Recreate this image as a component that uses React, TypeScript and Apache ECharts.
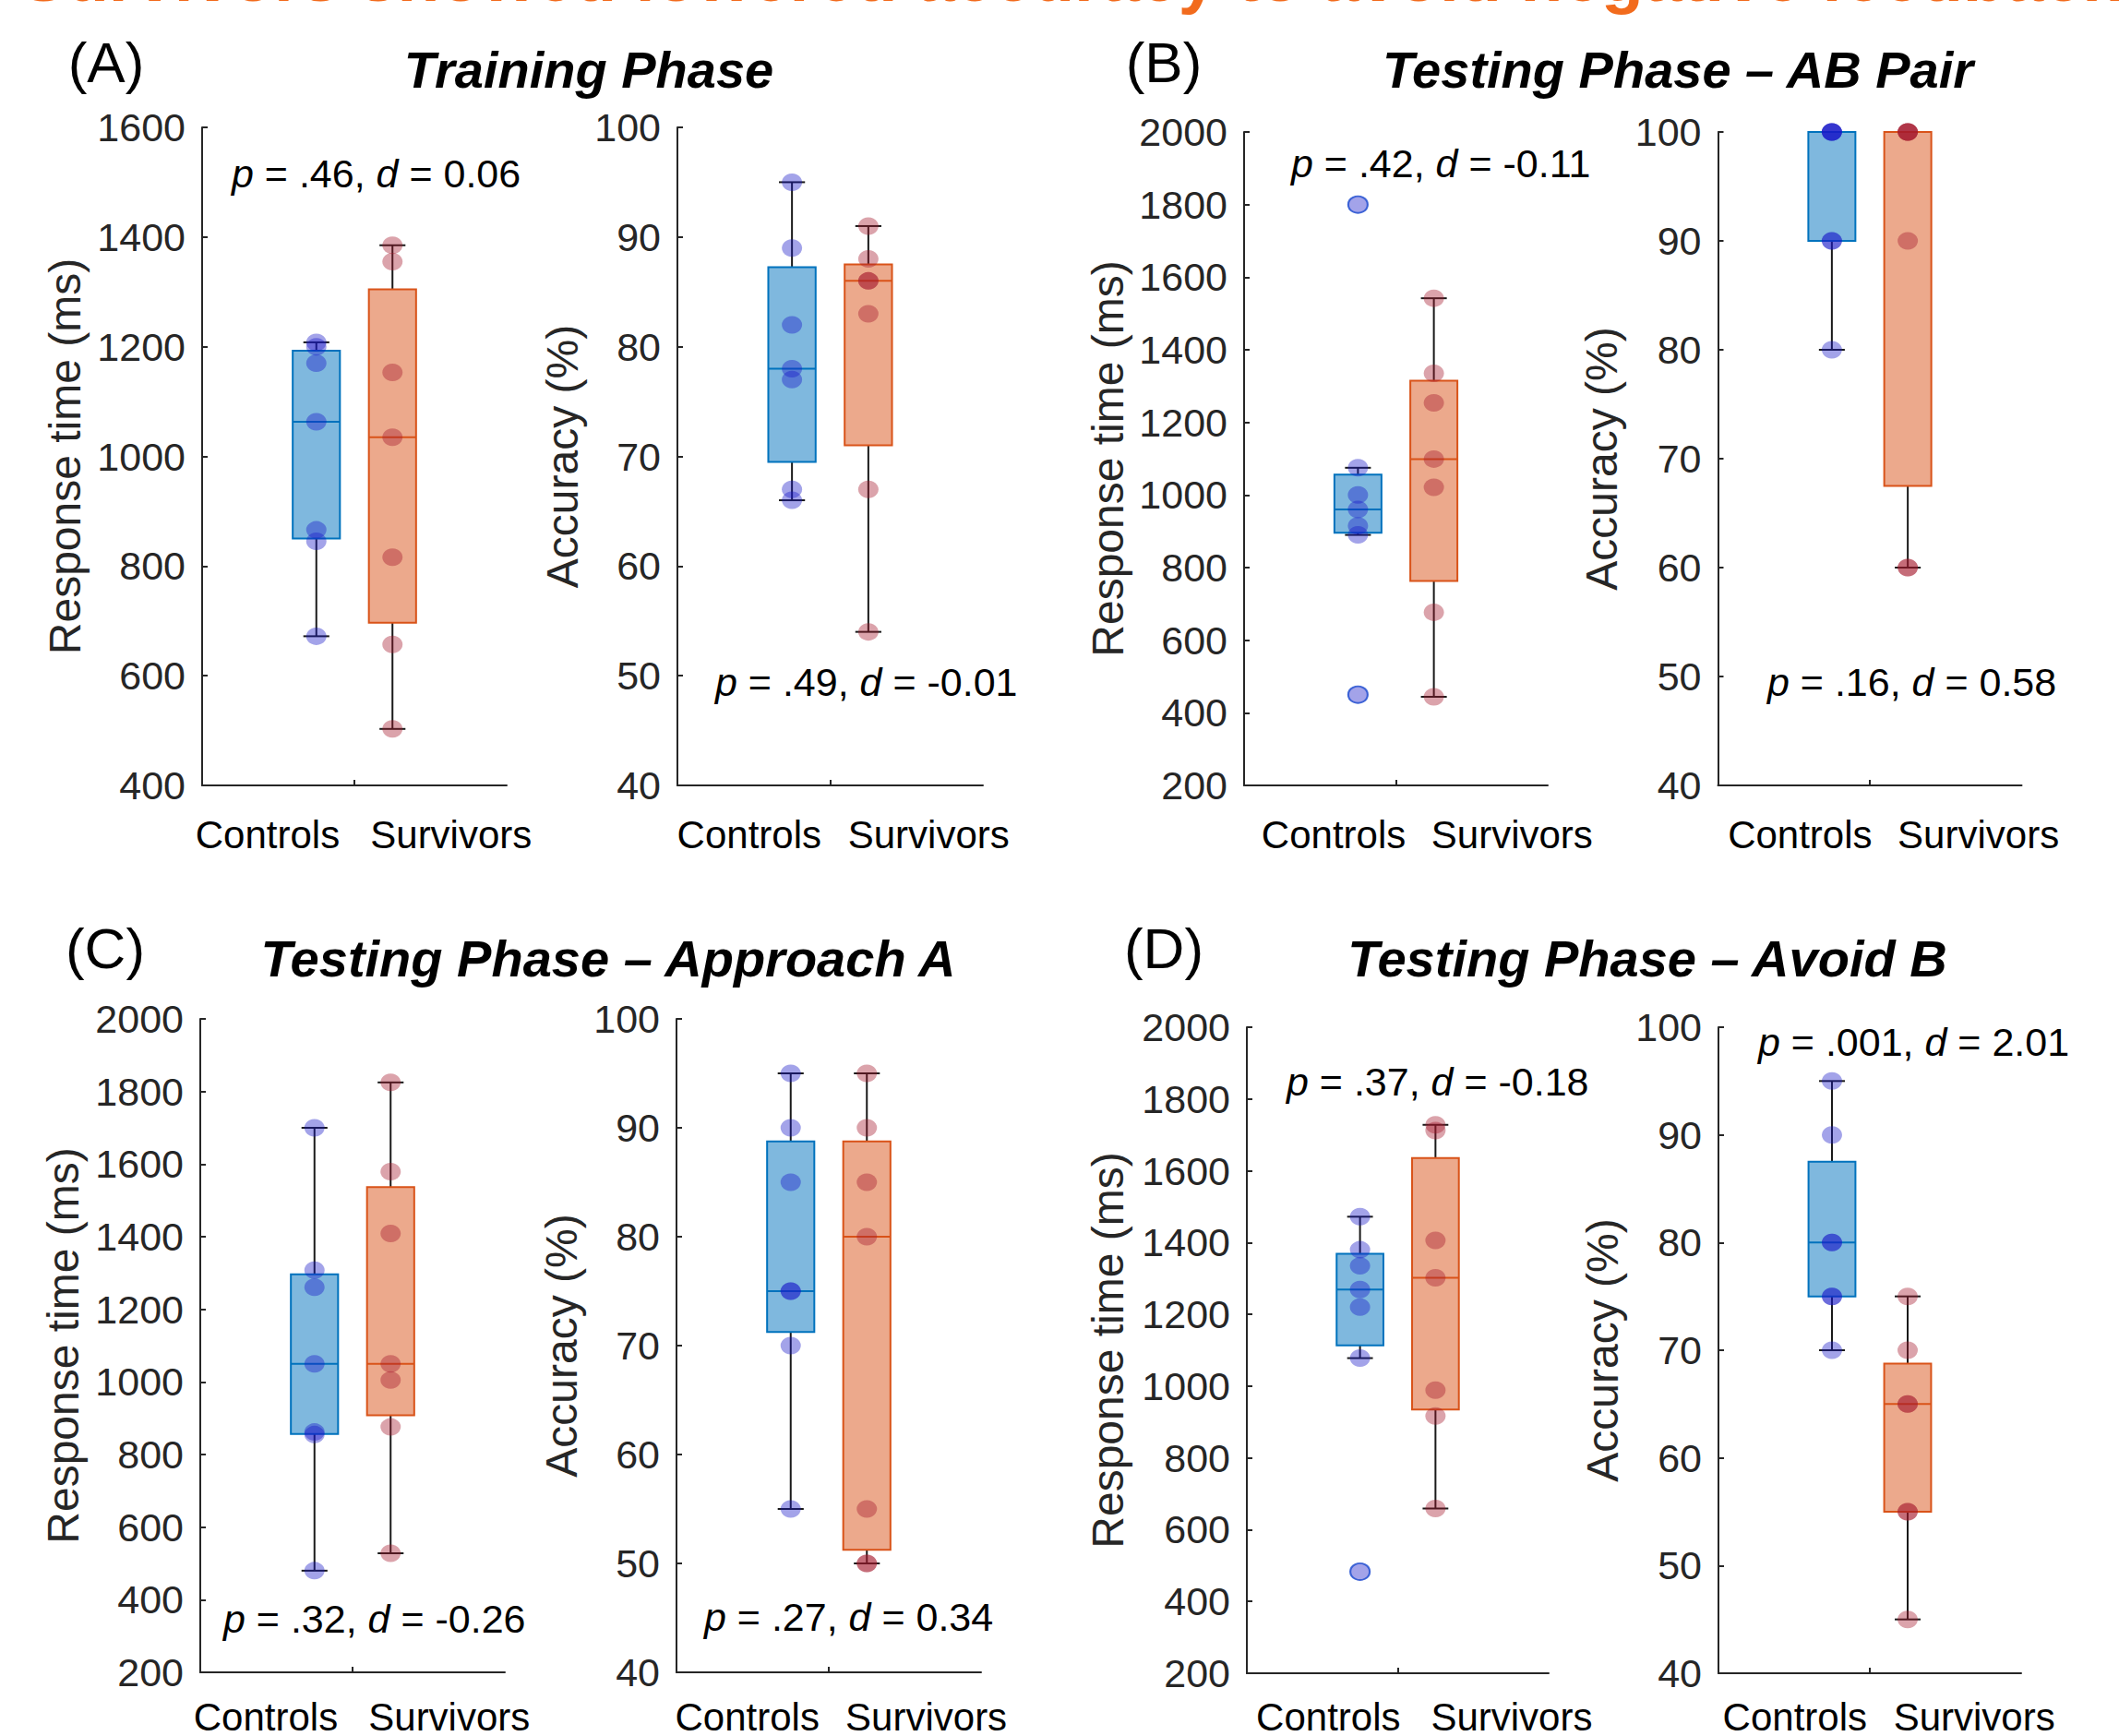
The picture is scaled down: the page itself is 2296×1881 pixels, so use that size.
import React, { useEffect, useRef } from 'react';
import * as echarts from 'echarts';

const FONT = "'Liberation Sans', Arial, Helvetica, sans-serif";

// ---------- data ----------
const groupNames = ['Controls', 'Survivors'];
const groupPositions = [1.5, 2.5];

// (A) Training phase
const aRtControls = [672, 845, 866, 1063, 1170, 1200, 1208];
const aRtSurvivors = [503, 657, 816, 1035, 1153, 1355, 1385];
const aAccControls = [66, 67, 77, 78, 82, 89, 95];
const aAccSurvivors = [54, 67, 83, 86, 86, 88, 91];
// (B) Testing phase – AB pair
const bRtControls = [450, 890, 915, 960, 1000, 1075, 1800];
const bRtSurvivors = [444, 677, 1021, 1099, 1254, 1335, 1542];
const bAccControls = [80, 90, 90, 100, 100, 100, 100];
const bAccSurvivors = [60, 60, 90, 100, 100, 100, 100];
// (C) Testing phase – Approach A
const cRtControls = [480, 855, 862, 1050, 1261, 1308, 1700];
const cRtSurvivors = [528, 876, 1005, 1050, 1409, 1579, 1825];
const cAccControls = [55, 70, 75, 75, 85, 90, 95];
const cAccSurvivors = [50, 50, 55, 80, 85, 90, 95];
// (D) Testing phase – Avoid B
const dRtControls = [483, 1078, 1220, 1269, 1335, 1380, 1472];
const dRtSurvivors = [659, 917, 989, 1302, 1406, 1712, 1728];
const dAccControls = [70, 75, 75, 80, 80, 90, 95];
const dAccSurvivors = [45, 55, 55, 65, 65, 70, 75];

// y-axis ranges [min, max, step]
const rtRangeTraining = [400, 1600, 200];
const rtRangeTesting = [200, 2000, 200];
const accRange = [40, 100, 10];

const rtName = 'Response time (ms)';
const accName = 'Accuracy (%)';

const pValues = ['.46', '.49', '.42', '.16', '.32', '.27', '.37', '.001'];
const dValues = ['0.06', '-0.01', '-0.11', '0.58', '-0.26', '0.34', '-0.18', '2.01'];

const panelLetters = ['(A)', '(B)', '(C)', '(D)'];
const panelTitles = ['Training Phase', 'Testing Phase – AB Pair', 'Testing Phase – Approach A', 'Testing Phase – Avoid B'];
const headline = 'Survivors showed lowered accuracy to avoid negative feedback';

const panels = [
  { ctrl: aRtControls, surv: aRtSurvivors, range: rtRangeTraining, name: rtName },
  { ctrl: aAccControls, surv: aAccSurvivors, range: accRange, name: accName },
  { ctrl: bRtControls, surv: bRtSurvivors, range: rtRangeTesting, name: rtName },
  { ctrl: bAccControls, surv: bAccSurvivors, range: accRange, name: accName },
  { ctrl: cRtControls, surv: cRtSurvivors, range: rtRangeTesting, name: rtName },
  { ctrl: cAccControls, surv: cAccSurvivors, range: accRange, name: accName },
  { ctrl: dRtControls, surv: dRtSurvivors, range: rtRangeTesting, name: rtName },
  { ctrl: dAccControls, surv: dAccSurvivors, range: accRange, name: accName },
];

// ---------- layout (pixels) ----------
const gridRects = [
  [219, 138, 330, 713],
  [734, 138, 331, 713],
  [1348, 143, 329, 708],
  [1861.5, 143, 329, 708],
  [217, 1104, 330, 713],
  [733, 1104, 330, 713],
  [1351, 1113, 327, 705],
  [1862, 1113, 328, 705],
];
const statPos = [
  [251, 188], [775, 739], [1399, 177], [1915, 739],
  [242, 1754], [763, 1752], [1394, 1172], [1905, 1129],
];
const catLabelValues = [
  [0.86, 3.27], [0.94, 3.29], [1.18, 3.53], [1.08, 3.43],
  [0.86, 3.27], [0.93, 3.28], [1.08, 3.51], [1.01, 3.38],
];
const catLabelMargin = [32, 32, 32, 32, 27, 27, 26, 26];
const nameGaps = [125, 101, 124, 102, 125, 101, 127, 102];
const letterPos = [[115, 67], [1261, 67], [114, 1027], [1261, 1027]];
const titlePos = [[638, 75], [1818, 75], [659, 1038], [1785, 1038]];

const AXIS = '#262626';
const CTRL_EDGE = '#0072BD';
const SURV_EDGE = '#D95319';
const CTRL_FILL = 'rgba(0,114,189,0.5)';
const SURV_FILL = 'rgba(217,83,25,0.5)';
const CTRL_DOT = 'rgba(25,25,200,0.5)';
const SURV_DOT = 'rgba(165,25,45,0.5)';
const OUTLIER_EDGE = '#1f4fd0';
const BOX_WIDTH = 0.62; // in x-axis units
const CAP_RATIO = 0.55;

function quantile(sorted: number[], p: number) {
  const n = sorted.length;
  const pos = n * p + 0.5;
  if (pos <= 1) return sorted[0];
  if (pos >= n) return sorted[n - 1];
  const i = Math.floor(pos);
  const f = pos - i;
  return sorted[i - 1] + f * (sorted[i] - sorted[i - 1]);
}

function boxStats(values: number[]) {
  const s = [...values].sort((a, b) => a - b);
  const q1 = quantile(s, 0.25);
  const med = quantile(s, 0.5);
  const q3 = quantile(s, 0.75);
  const iqr = q3 - q1;
  const lo = q1 - 1.5 * iqr;
  const hi = q3 + 1.5 * iqr;
  const inside = s.filter((v) => v >= lo && v <= hi);
  const outliers = s.filter((v) => v < lo || v > hi);
  return { wLo: inside[0], q1, med, q3, wHi: inside[inside.length - 1], outliers };
}

function renderBox(params: any, api: any) {
  const x = api.value(0);
  const lo = api.value(1);
  const q1 = api.value(2);
  const med = api.value(3);
  const q3 = api.value(4);
  const hi = api.value(5);
  const g = api.value(6);
  const cx = api.coord([x, med])[0];
  const yLo = api.coord([x, lo])[1];
  const yQ1 = api.coord([x, q1])[1];
  const yMed = api.coord([x, med])[1];
  const yQ3 = api.coord([x, q3])[1];
  const yHi = api.coord([x, hi])[1];
  const half = api.size([BOX_WIDTH, 0])[0] / 2;
  const cap = half * CAP_RATIO;
  const edge = g === 0 ? CTRL_EDGE : SURV_EDGE;
  const fill = g === 0 ? CTRL_FILL : SURV_FILL;
  const wStyle = { stroke: '#1a1a1a', lineWidth: 2 };
  return {
    type: 'group',
    children: [
      { type: 'line', shape: { x1: cx, y1: yHi, x2: cx, y2: yQ3 }, style: wStyle },
      { type: 'line', shape: { x1: cx, y1: yQ1, x2: cx, y2: yLo }, style: wStyle },
      { type: 'line', shape: { x1: cx - cap, y1: yHi, x2: cx + cap, y2: yHi }, style: wStyle },
      { type: 'line', shape: { x1: cx - cap, y1: yLo, x2: cx + cap, y2: yLo }, style: wStyle },
      {
        type: 'rect',
        shape: { x: cx - half, y: yQ3, width: half * 2, height: yQ1 - yQ3 },
        style: { fill, stroke: edge, lineWidth: 2 },
      },
      { type: 'line', shape: { x1: cx - half, y1: yMed, x2: cx + half, y2: yMed }, style: { stroke: edge, lineWidth: 2 } },
    ],
  };
}

function buildOption() {
  const grid: any[] = [];
  const xAxis: any[] = [];
  const yAxis: any[] = [];
  const series: any[] = [];
  const graphic: any[] = [];

  panels.forEach((p, i) => {
    const [l, t, w, h] = gridRects[i];
    grid.push({ left: l, top: t, width: w, height: h });
    xAxis.push({
      type: 'value',
      gridIndex: i,
      min: 0,
      max: 4,
      interval: 2,
      axisLine: { show: true, onZero: false, lineStyle: { color: AXIS, width: 2 } },
      axisTick: { show: true, inside: true, length: 6, customValues: [2], lineStyle: { color: AXIS, width: 2 } },
      axisLabel: {
        show: true,
        customValues: catLabelValues[i],
        formatter: (v: number) => (v < 2 ? groupNames[0] : groupNames[1]),
        fontSize: 42,
        fontFamily: FONT,
        color: '#000',
        margin: catLabelMargin[i],
      },
      splitLine: { show: false },
    });
    yAxis.push({
      type: 'value',
      gridIndex: i,
      min: p.range[0],
      max: p.range[1],
      interval: p.range[2],
      name: p.name,
      nameLocation: 'middle',
      nameGap: nameGaps[i],
      nameRotate: 90,
      nameTextStyle: { fontSize: 48, fontFamily: FONT, color: AXIS },
      axisLine: { show: true, onZero: false, lineStyle: { color: AXIS, width: 2 } },
      axisTick: { show: true, inside: true, length: 6, lineStyle: { color: AXIS, width: 2 } },
      axisLabel: {
        fontSize: 43,
        fontFamily: FONT,
        color: AXIS,
        margin: 18,
        formatter: (v: number) => String(v),
      },
      splitLine: { show: false },
    });

    const groups = [p.ctrl, p.surv];
    const boxData = groups.map((vals, g) => {
      const s = boxStats(vals);
      return [groupPositions[g], s.wLo, s.q1, s.med, s.q3, s.wHi, g];
    });
    series.push({
      type: 'custom',
      xAxisIndex: i,
      yAxisIndex: i,
      renderItem: renderBox,
      data: boxData,
      encode: { x: 0, y: [1, 2, 3, 4, 5] },
      silent: true,
      z: 2,
    });
    groups.forEach((vals, g) => {
      series.push({
        type: 'scatter',
        xAxisIndex: i,
        yAxisIndex: i,
        data: vals.map((v) => [groupPositions[g], v]),
        symbol: 'circle',
        symbolSize: [22, 19],
        itemStyle: { color: g === 0 ? CTRL_DOT : SURV_DOT },
        silent: true,
        z: 3,
      });
      const out = boxStats(vals).outliers;
      if (out.length) {
        series.push({
          type: 'scatter',
          xAxisIndex: i,
          yAxisIndex: i,
          data: out.map((v) => [groupPositions[g], v]),
          symbol: 'circle',
          symbolSize: [21, 18],
          itemStyle: { color: 'rgba(0,0,0,0)', borderColor: OUTLIER_EDGE, borderWidth: 2 },
          silent: true,
          z: 4,
        });
      }
    });

    graphic.push({
      type: 'text',
      x: statPos[i][0],
      y: statPos[i][1],
      silent: true,
      style: {
        text: `{i|p} = ${pValues[i]}, {i|d} = ${dValues[i]}`,
        fontSize: 43,
        fontFamily: FONT,
        fill: '#000',
        textAlign: 'left',
        align: 'left',
        textVerticalAlign: 'middle',
        verticalAlign: 'middle',
        rich: { i: { fontStyle: 'italic', fontSize: 43, fontFamily: FONT, fill: '#000' } },
      },
    });
  });

  panelLetters.forEach((txt, k) => {
    graphic.push({
      type: 'text',
      x: letterPos[k][0],
      y: letterPos[k][1],
      silent: true,
      style: {
        text: txt, fontSize: 62, fontFamily: FONT, fill: '#000',
        textAlign: 'center', align: 'center', textVerticalAlign: 'middle', verticalAlign: 'middle',
      },
    });
    graphic.push({
      type: 'text',
      x: titlePos[k][0],
      y: titlePos[k][1],
      silent: true,
      style: {
        text: panelTitles[k], fontSize: 56, fontFamily: FONT, fontWeight: 'bold', fontStyle: 'italic', fill: '#000',
        textAlign: 'center', align: 'center', textVerticalAlign: 'middle', verticalAlign: 'middle',
      },
    });
  });

  graphic.push({
    type: 'text',
    x: 22,
    y: -25,
    silent: true,
    style: {
      text: headline, fontSize: 75, fontFamily: FONT, fontWeight: 'bold', fill: '#F26B1D',
      textAlign: 'left', align: 'left', textVerticalAlign: 'middle', verticalAlign: 'middle',
    },
  });

  return {
    animation: false,
    backgroundColor: '#ffffff',
    grid,
    xAxis,
    yAxis,
    series,
    graphic: { elements: graphic },
  };
}

export default function App() {
  const ref = useRef<HTMLDivElement>(null);
  useEffect(() => {
    if (!ref.current) return;
    const chart = echarts.init(ref.current, undefined, { renderer: 'svg' });
    chart.setOption(buildOption() as any);
    return () => chart.dispose();
  }, []);
  return (
    <div
      ref={ref}
      style={{ position: 'absolute', left: 0, top: 0, width: 2296, height: 1881, background: '#fff' }}
    />
  );
}
